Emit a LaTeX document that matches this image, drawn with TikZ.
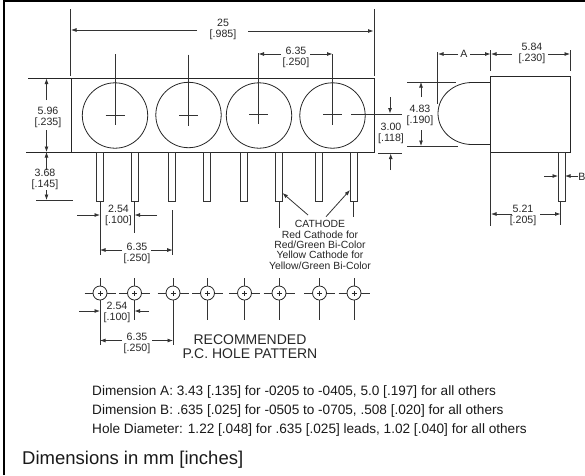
\documentclass[tikz,border=0pt]{standalone}
\usepackage{fontspec}
\setmainfont{Liberation Sans}
\usetikzlibrary{arrows.meta}
\tikzset{
  line/.style={draw=black!85,line width=0.8pt},
  thin line/.style={draw=black!80,line width=0.8pt},
  dimarrow/.style={thin line,-{Latex[length=5.5pt,width=4pt]}},
  dim/.style={font=\fontsize{10.6}{11}\selectfont,align=center,inner sep=0pt,text=black!85},
  note/.style={font=\fontsize{13.6}{15}\selectfont,anchor=west,inner sep=0pt,text=black!90},
  rec/.style={font=\fontsize{14}{14}\selectfont,align=center,inner sep=0pt,text=black!85},
}
\begin{document}
\begin{tikzpicture}[x=1pt,y=-1pt]
\useasboundingbox (0,0) rectangle (585,475);
\draw[black,line width=2.2pt] (4.2,475) -- (4.2,1.2) -- (585,1.2);
% front body
\coordinate (bl) at (71,152); \coordinate (br) at (374,152);
\coordinate (tl) at (71,78.5); \coordinate (tr) at (374,78.5);
\draw[line] (28,78.5) -- (tr) -- (br) -- (26,152);
\draw[line] (tl) -- (bl);
\draw[thin line] (70.5,9) -- (70.5,76) (374,9) -- (374,76);
% LEDs
\foreach \cx/\cy/\lx/\ty/\by/\hy in {115/115.5/115/54/125/115, 188.5/115/188.5/54.5/126/115.5, 259/115.5/258.5/53/124/114, 332.5/115.5/332.5/54/125/114.5}{
  \draw[line] (\cx,\cy) circle[radius=32.7];
  \draw[thin line] (\lx,\ty) -- (\lx,\by) (\lx-9.5,\hy) -- (\lx+9.5,\hy);
}
% leads
\foreach \x in {96,131,168.5,203.5,240.5,275.5,315,350}{
  \draw[thin line,fill=white] (\x,152) rectangle (\x+7,201);
}
% dim 25
\node[dim] (d25) at (223,29) {25\\{[.985]}};
\draw[dimarrow] (197,30) -- (71,30);
\draw[dimarrow] (248,31) -- (373.5,31);
% dim 6.35 top
\node[dim] (d635) at (296,57.5) {6.35\\{[.250]}};
\draw[dimarrow] (281,54) -- (258.5,54);
\draw[dimarrow] (310,54) -- (332.5,54);
% 5.96
\node[dim] (d596) at (48,117) {5.96\\{[.235]}};
\draw[dimarrow] (46.5,100) -- (46.5,78.5);
\draw[dimarrow] (46.5,130) -- (46.5,152);
% 3.68
\node[dim] (d368) at (45,179.5) {3.68\\{[.145]}};
\draw[dimarrow] (46.5,170) -- (46.5,152);
\draw[dimarrow] (46.5,190) -- (46.5,200);
\draw[thin line] (36,200) -- (73,200);
% 2.54
\node[dim] (d254) at (118.5,215.5) {2.54\\{[.100]}};
\draw[thin line] (100,201) -- (100,255) (134.5,201) -- (134.5,233);
\draw[dimarrow] (77,215) -- (100,215);
\draw[dimarrow] (157,215) -- (134.5,215);
% 6.35
\node[dim] (d635b) at (137,253.5) {6.35\\{[.250]}};
\draw[thin line] (172.7,210) -- (172.7,255);
\draw[dimarrow] (122,250) -- (100,250);
\draw[dimarrow] (151,250) -- (172.7,250);
% cathode
\node[dim,font=\fontsize{10.4}{10.4}\selectfont] (cath) at (320,245) {CATHODE\\Red Cathode for\\Red/Green Bi-Color\\Yellow Cathode for\\Yellow/Green Bi-Color};
\draw[dimarrow] (308,215) -- (282.5,193);
\draw[dimarrow] (326,216.7) -- (350,190);
\draw[thin line] (279,201) -- (279,228) (353.5,201) -- (353.5,217);
% side view
\draw[line] (490.5,76.5) rectangle (570.5,152);
\draw[line] (490.5,82.5) -- (472,82.5) arc[start angle=270,end angle=90,x radius=34,y radius=31] -- (490.5,144.5);
\draw[thin line] (407,82) -- (456,82) (407,146) -- (458,146);
\draw[thin line] (437.5,52) -- (437.5,104);
\draw[thin line] (490.5,50) -- (490.5,71) (570.5,50) -- (570.5,71);
\node[dim] (dA) at (464,54) {A};
\draw[dimarrow] (458,54) -- (438,54);
\draw[dimarrow] (470,54) -- (490.5,54);
\node[dim] (d584) at (532,53.5) {5.84\\{[.230]}};
\draw[dimarrow] (512,54) -- (491,54);
\draw[dimarrow] (548,54) -- (570,54);
\node[dim] (d483) at (420,115.5) {4.83\\{[.190]}};
\draw[dimarrow] (421,97) -- (421,82);
\draw[dimarrow] (421,130) -- (421,146);
\node[dim] (d300) at (391,133.5) {3.00\\{[.118]}};
\draw[thin line] (351,114) -- (402,114) (378,153) -- (402,153);
\draw[dimarrow] (390,97) -- (390,113.5);
\draw[dimarrow] (390.7,170) -- (390.7,153.5);
\draw[thin line,fill=white] (558,152) rectangle (565,201);
\node[dim] (dB) at (582,177) {B};
\draw[dimarrow] (544,176) -- (558,176);
\draw[dimarrow] (578,176) -- (565,176);
\node[dim] (d521) at (523,215.5) {5.21\\{[.205]}};
\draw[thin line] (490.5,152) -- (490.5,226) (560.5,201) -- (560.5,225);
\draw[dimarrow] (512,214) -- (491,214);
\draw[dimarrow] (540,214) -- (560.5,214);
% holes
\foreach \x/\b in {100/300,134.5/320,173/345,207.5/320,244.5/320,279/320,319.5/320,354/320}{
  \draw[line,fill=white] (\x,293) circle[radius=7];
  \draw[thin line] (\x-15.5,293) -- (\x-7,293) (\x+7,293) -- (\x+15.5,293) (\x,278) -- (\x,286) (\x,300) -- (\x,\b);
  \draw[line width=0.6pt,draw=black!85] (\x-2.5,293) -- (\x+2.5,293) (\x,290.5) -- (\x,295.5);
}
\draw[thin line] (100,300) -- (100,345) (134.5,300) -- (134.5,320);
\node[dim] (d254b) at (117,312) {2.54\\{[.100]}};
\draw[dimarrow] (79,311) -- (100,311);
\draw[dimarrow] (149,311) -- (134.5,311);
\node[dim] (d635c) at (137,343) {6.35\\{[.250]}};
\draw[dimarrow] (122,340.5) -- (100,340.5);
\draw[dimarrow] (152,340.5) -- (173,340.5);
\node[rec] (rec) at (250,347) {RECOMMENDED\\P.C. HOLE PATTERN};
% notes
\node[note] (n1) at (92,392) {Dimension A: 3.43 [.135] for -0205 to -0405, 5.0 [.197] for all others};
\node[note] (n2) at (92,411) {Dimension B: .635 [.025] for -0505 to -0705, .508 [.020] for all others};
\node[note] (n3) at (92,430) {Hole Diameter: 1.22 [.048] for .635 [.025] leads, 1.02 [.040] for all others};
\node[note,font=\fontsize{18.5}{20}\selectfont] (n4) at (22,460) {Dimensions in mm [inches]};
\end{tikzpicture}
\end{document}
